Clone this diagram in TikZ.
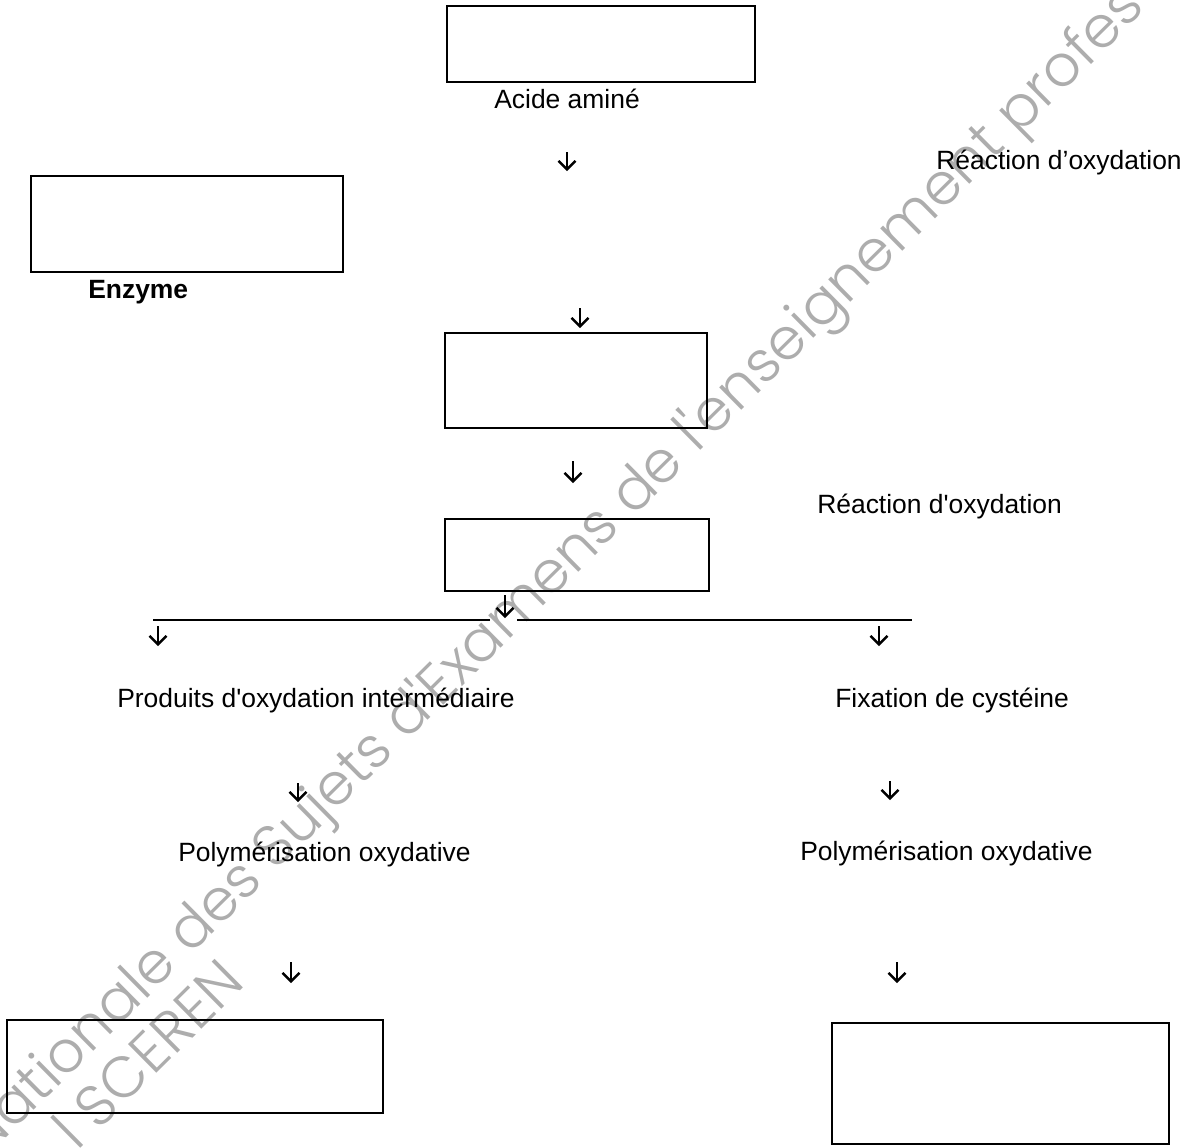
\documentclass[tikz,border=0pt]{standalone}
\usepackage{fontspec}
\setmainfont{Liberation Sans}
\newfontfamily\wmfont{Poppins}[UprightFont=* Light]
\usetikzlibrary{arrows.meta}
\newcommand\mydarrow[4]{%
  \coordinate (#1t) at (#2,#3);
  \coordinate (#1b) at (#2,#4);
  \draw[darr] (#1t) -- (#1b);}
\begin{document}
\begin{tikzpicture}[x=0.025cm,y=-0.025cm,
  box/.style={draw=black, line width=1.3pt, rectangle, inner sep=0pt},
  lbl/.style={anchor=base west, inner sep=0pt, font=\fontsize{18.8}{22}\selectfont},
  darr/.style={line width=1.7pt, -{Straight Barb[length=6pt,width=12pt]}},
  wm/.style={inner sep=0pt, text=black!32, font=\wmfont\fontsize{41}{48}\selectfont, rotate=44.7},
  hline/.style={line width=1.6pt}]
\useasboundingbox (0,0) rectangle (1194,1147);
\fill[white] (0,0) rectangle (1194,1147);
% watermark
\node[wm, anchor=base east] (wm1) at (1147,9) {Nationale des Sujets d\textquotesingle Examens de l\textquotesingle enseignement profes};
\node[wm, anchor=base east] (wm2) at (247,984) {l SCEREN};
% boxes
\node[box, minimum width=7.7cm, minimum height=1.9cm] (b1) at (601,44) {};
\node[box, minimum width=7.8cm, minimum height=2.4cm] (b2) at (187,224) {};
\node[box, minimum width=6.55cm, minimum height=2.375cm] (b3) at (576,380.5) {};
\node[box, minimum width=6.6cm, minimum height=1.8cm] (b4) at (577,555) {};
\node[box, minimum width=9.4cm, minimum height=2.325cm] (b5) at (195,1066.5) {};
\node[box, minimum width=8.425cm, minimum height=3.025cm] (b6) at (1000.5,1083.5) {};
% labels
\node[lbl] (t1) at (494,108) {Acide aminé};
\node[lbl] (t2) at (936,169) {Réaction d’oxydation};
\node[lbl, font=\fontsize{18.8}{22}\selectfont\bfseries] (t3) at (88,298) {Enzyme};
\node[lbl] (t4) at (817,513) {Réaction d\textquotesingle oxydation};
\node[lbl] (t5) at (117,707) {Produits d\textquotesingle oxydation intermédiaire};
\node[lbl] (t6) at (835,707) {Fixation de cystéine};
\node[lbl] (t7) at (178,861) {Polymérisation oxydative};
\node[lbl] (t8) at (800,860) {Polymérisation oxydative};
% horizontal branching line
\coordinate (hl) at (153,620);
\coordinate (hm1) at (490,620);
\coordinate (hm2) at (517,620);
\coordinate (hr) at (912,620);
\draw[hline] (hl) -- (hm1);
\draw[hline] (hm2) -- (hr);
% arrows
\mydarrow{a1}{567}{152}{171}
\mydarrow{a2}{580}{308}{328}
\mydarrow{a3}{573}{461}{483}
\mydarrow{a4}{505}{595}{618}
\mydarrow{a5}{158}{626}{646}
\mydarrow{a6}{879}{626}{646}
\mydarrow{a7}{298}{783}{802}
\mydarrow{a8}{890}{781}{800}
\mydarrow{a9}{291}{962}{983}
\mydarrow{a10}{897}{962}{983}
\end{tikzpicture}
\end{document}
